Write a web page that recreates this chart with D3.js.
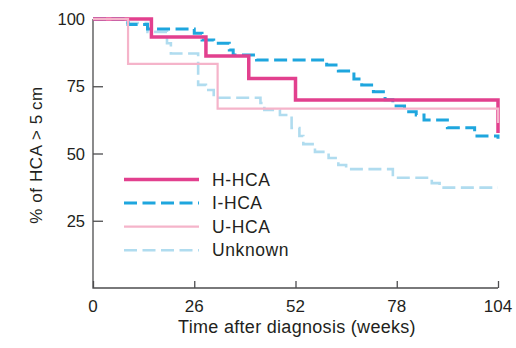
<!DOCTYPE html>
<html>
<head>
<meta charset="utf-8">
<script src="https://cdn.jsdelivr.net/npm/d3@7"></script>
<style>
  body { margin: 0; background: #fff; }
  text { font-family: "Liberation Sans", Arial, sans-serif; fill: #231f20; }
</style>
</head>
<body>
<div id="content"></div>
<script>
// Kaplan-Meier style steps: [week, percent]
var hhca = [[0, 100], [15, 93.3], [29, 86.2], [40, 77.9], [52, 69.9], [104, 57.6]];
var ihca = [[0, 100], [9, 98], [14, 96.3], [26, 94.7], [28, 92.2], [31, 91], [35, 88.5], [36, 86.6],
  [42, 84.8], [60, 82.9], [63, 80.7], [67, 77.7], [69, 75.5], [72, 73], [75, 70], [77, 67.7],
  [80, 65.5], [83, 64.3], [85, 62.5], [91, 59.6], [98, 56.5], [104, 55.5]];
var uhca = [[0, 100], [9, 83.3], [32, 66.7], [104, 61.3]];
var unknown = [[0, 100], [8, 98.5], [14, 95.2], [19, 91], [20, 87.2], [27, 75.5], [29, 73.6],
  [31, 70.7], [43, 68.8], [44, 66.2], [48, 64.3], [51, 59.5], [53, 56.5], [54, 53.5], [57, 50.6],
  [60.5, 48.3], [63, 45.7], [65, 44.2], [77, 41], [87, 39], [89, 37.3], [104, 37.3]];

var seriesNames = ['H-HCA', 'I-HCA', 'U-HCA', 'Unknown'];
var xTicks = [0, 26, 52, 78, 104];
var yTicks = [25, 50, 75, 100];

var styles = {
  'H-HCA':   { color: '#e2408e', width: 3.5, dash: null },
  'I-HCA':   { color: '#1ea6de', width: 3, dash: '13,5.5' },
  'U-HCA':   { color: '#f5b4ca', width: 2.2, dash: null },
  'Unknown': { color: '#b0dcef', width: 2.6, dash: '13,5.5' }
};
var dataByName = { 'H-HCA': hhca, 'I-HCA': ihca, 'U-HCA': uhca, 'Unknown': unknown };

var svg = d3.select('#content').append('svg')
    .attr('width', 516)
    .attr('height', 348);

var x = d3.scaleLinear().domain([0, 104]).range([93, 498]);
var y = d3.scaleLinear().domain([0, 100]).range([288, 19]);

// axes (ticks point inward, labels drawn separately)
svg.append('g')
    .attr('transform', 'translate(0,' + y(0) + ')')
    .call(d3.axisTop(x).tickValues(xTicks).tickSize(7).tickFormat(''));
svg.append('g')
    .attr('transform', 'translate(' + x(0) + ',0)')
    .call(d3.axisRight(y).tickValues(yTicks).tickSize(10).tickFormat(''));
svg.selectAll('.domain').remove();
svg.selectAll('.tick line').attr('stroke', '#4d4d4f').attr('stroke-width', 1.3);

svg.append('path')
    .attr('d', 'M' + x(0) + ',' + y(100) + 'V' + y(0) + 'H' + x(104))
    .attr('fill', 'none')
    .attr('stroke', '#4d4d4f')
    .attr('stroke-width', 1.3);

svg.selectAll('.xlab').data(xTicks).enter().append('text')
    .attr('x', function(d) { return x(d); })
    .attr('y', 311.5)
    .attr('text-anchor', 'middle')
    .style('font-size', '17px')
    .text(function(d) { return d; });

svg.selectAll('.ylab').data(yTicks).enter().append('text')
    .attr('x', 85)
    .attr('y', function(d) { return y(d) + 6; })
    .attr('text-anchor', 'end')
    .style('font-size', '16.5px')
    .text(function(d) { return d; });

svg.append('text')
    .attr('x', 297)
    .attr('y', 333)
    .attr('text-anchor', 'middle')
    .style('font-size', '18px')
    .style('letter-spacing', '0.3px')
    .text('Time after diagnosis (weeks)');

svg.append('text')
    .attr('transform', 'translate(42,155) rotate(-90)')
    .attr('text-anchor', 'middle')
    .style('font-size', '17px')
    .style('letter-spacing', '0.6px')
    .text('% of HCA > 5\u2009cm');

// step lines
var line = d3.line()
    .x(function(d) { return x(d[0]); })
    .y(function(d) { return y(d[1]); })
    .curve(d3.curveStepAfter);

var drawOrder = ['Unknown', 'I-HCA', 'H-HCA', 'U-HCA'];
drawOrder.forEach(function(name) {
    var s = styles[name];
    svg.append('path')
        .datum(dataByName[name])
        .attr('d', line)
        .attr('fill', 'none')
        .attr('stroke', s.color)
        .attr('stroke-width', s.width)
        .attr('stroke-dasharray', s.dash);
});

// legend
var legend = svg.selectAll('.legend').data(seriesNames).enter().append('g')
    .attr('transform', function(d, i) { return 'translate(124,' + (179.5 + i * 23.6) + ')'; });
legend.append('line')
    .attr('x1', 0).attr('x2', 75)
    .attr('stroke', function(d) { return styles[d].color; })
    .attr('stroke-width', function(d) { return styles[d].width; })
    .attr('stroke-dasharray', function(d) { return styles[d].dash; });
legend.append('text')
    .attr('x', 88)
    .attr('y', 6)
    .style('font-size', '17.5px')
    .style('letter-spacing', '0.6px')
    .text(function(d) { return d; });
</script>
</body>
</html>
